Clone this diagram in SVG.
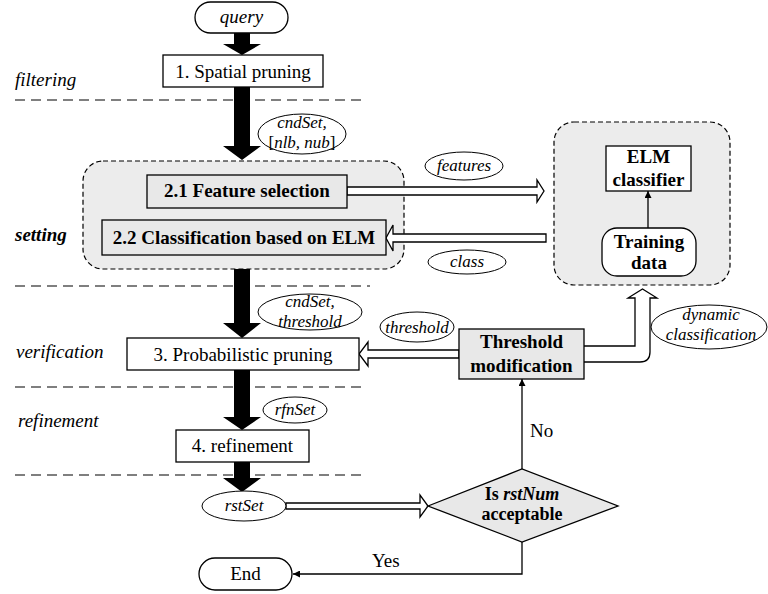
<svg xmlns="http://www.w3.org/2000/svg" width="768" height="594" viewBox="0 0 768 594" font-family="'Liberation Serif', 'Times New Roman', Times, 'DejaVu Serif', serif">
<defs>
<marker id="tri" viewBox="0 0 10 10" refX="10" refY="5" markerWidth="7" markerHeight="7" markerUnits="userSpaceOnUse" orient="auto">
<path d="M0,0 L10,5 L0,10 Z" fill="#000"/>
</marker>
<style>
text{font-family:'Liberation Serif','Times New Roman',Times,'DejaVu Serif',serif;fill:#000}
.t{font-size:19px}
.b{font-size:19px;font-weight:bold}
.i{font-size:19px;font-style:italic}
.e{font-size:17px;font-style:italic}
.box{fill:#fff;stroke:#000;stroke-width:1.3}
.gbox{fill:#e8e8e8;stroke:#000;stroke-width:1.3}
.grp{fill:#ececec;stroke:#000;stroke-width:1.2;stroke-dasharray:5,3}
.ell{fill:#fff;stroke:#000;stroke-width:1}
.dash{stroke:#000;stroke-width:1.2;stroke-dasharray:10,6;fill:none}
.blk{fill:#000}
.hol{fill:#fff;stroke:#000;stroke-width:1.3}
.thin{fill:none;stroke:#000;stroke-width:1.3}
</style>
</defs>
<rect width="768" height="594" fill="#fff"/>

<g id="phases">
<line class="dash" x1="15" y1="100" x2="362" y2="100"/>
<line class="dash" x1="15" y1="286" x2="370" y2="286"/>
<line class="dash" x1="15" y1="387" x2="362" y2="387"/>
<line class="dash" x1="15" y1="475" x2="363" y2="475"/>
<text class="i" x="15" y="86">filtering</text>
<text class="b" x="15" y="241" font-style="italic">setting</text>
<text class="i" x="16" y="358">verification</text>
<text class="i" x="18" y="427">refinement</text>
</g>

<g id="setting-group"><rect class="grp" x="83" y="161" width="321" height="108" rx="20"/></g>
<g id="elm-group"><rect class="grp" x="554" y="122" width="176" height="163" rx="20"/></g>

<g id="connectors">
<polygon class="blk" points="234,33 250,33 250,44 261,44 242,55 223,44 234,44"/>
<polygon class="blk" points="234,87 250,87 250,146 261,146 242,160 223,146 234,146"/>
<polygon class="blk" points="234,269 250,269 250,323 261,323 242,338 223,323 234,323"/>
<polygon class="blk" points="234,370 250,370 250,417 261,417 242,430 223,417 234,417"/>
<polygon class="blk" points="234,462 250,462 250,478 261,478 242,492 223,478 234,478"/>
<polygon class="hol" points="347,187 537,187 537,180 544,191 537,202 537,195 347,195"/>
<polygon class="hol" points="546,234 393,234 393,225 386,238 393,251 393,242 546,242"/>
<polygon class="hol" points="459,350 368,350 368,342 359,354 368,366 368,358 459,358"/>
<path class="hol" d="M584,346 L635,346 L635,298 L628,298 L642.5,289 L657,298 L650,298 L650,352 Q650,362 640,362 L584,362"/>
<polygon class="hol" points="286,503 420,503 420,495 428,506 420,517 420,509 286,509"/>
<line class="thin" x1="648" y1="228" x2="648" y2="191" marker-end="url(#tri)"/>
<line class="thin" x1="522" y1="469" x2="522" y2="379" marker-end="url(#tri)"/>
<polyline class="thin" points="522,542 522,574 293,574" marker-end="url(#tri)"/>
<text class="t" x="530" y="437">No</text>
<text class="t" x="372" y="567">Yes</text>
</g>

<g id="query"><rect class="box" x="195" y="2" width="93" height="31" rx="15.5"/><text class="i" x="241.5" y="23" text-anchor="middle">query</text></g>
<g id="spatial-pruning"><rect class="box" x="163" y="55" width="160" height="32"/><text class="t" x="243" y="78" text-anchor="middle">1. Spatial pruning</text></g>
<g id="label-cndset1"><ellipse class="ell" cx="302" cy="134" rx="44" ry="20"/><text class="e" x="302" y="128" text-anchor="middle">cndSet,</text><text class="e" x="302" y="148" text-anchor="middle"><tspan font-style="normal">[</tspan>nlb, nub<tspan font-style="normal">]</tspan></text></g>
<g id="feature-selection"><rect class="gbox" x="147" y="175" width="200" height="33"/><text class="b" x="247" y="197" text-anchor="middle">2.1 Feature selection</text></g>
<g id="classification"><rect class="gbox" x="102" y="220" width="284" height="35"/><text class="b" x="244" y="244" text-anchor="middle">2.2 Classification based on ELM</text></g>
<g id="label-features"><ellipse class="ell" cx="464" cy="166" rx="39" ry="14"/><text class="e" x="464" y="171" text-anchor="middle">features</text></g>
<g id="label-class"><ellipse class="ell" cx="467" cy="262" rx="39" ry="12"/><text class="e" x="467" y="267" text-anchor="middle">class</text></g>
<g id="elm-classifier"><rect class="box" x="606" y="146" width="85" height="45"/><text class="b" x="648.5" y="163" text-anchor="middle">ELM</text><text class="b" x="648.5" y="186" text-anchor="middle">classifier</text></g>
<g id="training-data"><rect class="box" x="602" y="228" width="94" height="48" rx="15"/><text class="b" x="649" y="248" text-anchor="middle">Training</text><text class="b" x="649" y="269" text-anchor="middle">data</text></g>
<g id="label-cndset2"><ellipse class="ell" cx="310" cy="312" rx="52" ry="18"/><text class="e" x="310" y="307" text-anchor="middle">cndSet,</text><text class="e" x="310" y="327" text-anchor="middle">threshold</text></g>
<g id="probabilistic-pruning"><rect class="box" x="127" y="338" width="232" height="32"/><text class="t" x="243" y="361" text-anchor="middle">3. Probabilistic pruning</text></g>
<g id="label-threshold"><ellipse class="ell" cx="417" cy="327" rx="37" ry="15"/><text class="e" x="417" y="333" text-anchor="middle">threshold</text></g>
<g id="threshold-modification"><rect class="gbox" x="459" y="329" width="125" height="50"/><text class="b" x="521.5" y="348" text-anchor="middle">Threshold</text><text class="b" x="521.5" y="372" text-anchor="middle">modification</text></g>
<g id="label-dynamic"><ellipse class="ell" cx="709" cy="327" rx="58" ry="22"/><text class="e" x="711" y="320" text-anchor="middle">dynamic</text><text class="e" x="711" y="340" text-anchor="middle">classification</text></g>
<g id="label-rfnset"><ellipse class="ell" cx="295" cy="410" rx="32" ry="13"/><text class="e" x="295" y="415" text-anchor="middle">rfnSet</text></g>
<g id="refinement"><rect class="box" x="176" y="430" width="133" height="32"/><text class="t" x="242.5" y="452" text-anchor="middle">4. refinement</text></g>
<g id="rstset"><ellipse class="ell" cx="244" cy="506" rx="42" ry="15"/><text class="e" x="244" y="511" text-anchor="middle">rstSet</text></g>
<g id="decision"><polygon class="gbox" points="428,506 522,469 618,506 522,542"/><text x="522" y="500" text-anchor="middle" font-size="18" font-weight="bold">Is <tspan font-style="italic">rstNum</tspan></text><text x="522" y="520" text-anchor="middle" font-size="18" font-weight="bold">acceptable</text></g>
<g id="end"><rect class="box" x="199" y="558" width="93" height="32" rx="16"/><text class="t" x="245.5" y="580" text-anchor="middle">End</text></g>
</svg>
